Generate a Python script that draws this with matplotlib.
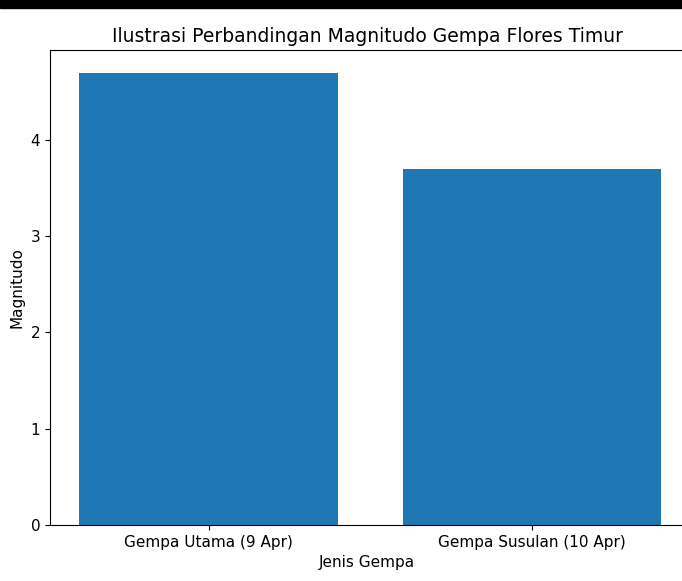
import matplotlib.pyplot as plt
from matplotlib.patches import Rectangle

categories = ["Gempa Utama (9 Apr)", "Gempa Susulan (10 Apr)"]
magnitudes = [4.7, 3.7]

fig = plt.figure(figsize=(6.82, 5.81), dpi=100)
# black strip at the top of the screenshot
fig.patches.append(Rectangle((0, 1 - 8 / 581), 1, 8 / 581, transform=fig.transFigure,
                             color="black", zorder=10))

ax = fig.add_axes([50 / 682, 56 / 581, 634 / 682, 475 / 581])
ax.bar(categories, magnitudes, width=0.8, color="#1f77b4")
ax.set_xlim(-0.49, 1.47)
ax.set_ylim(0, 4.935)
ax.set_title("Ilustrasi Perbandingan Magnitudo Gempa Flores Timur", fontsize=13.5)
ax.set_xlabel("Jenis Gempa", fontsize=11)
ax.set_ylabel("Magnitudo", fontsize=11)
ax.tick_params(labelsize=11)

fig.savefig("out.png", dpi=100)
